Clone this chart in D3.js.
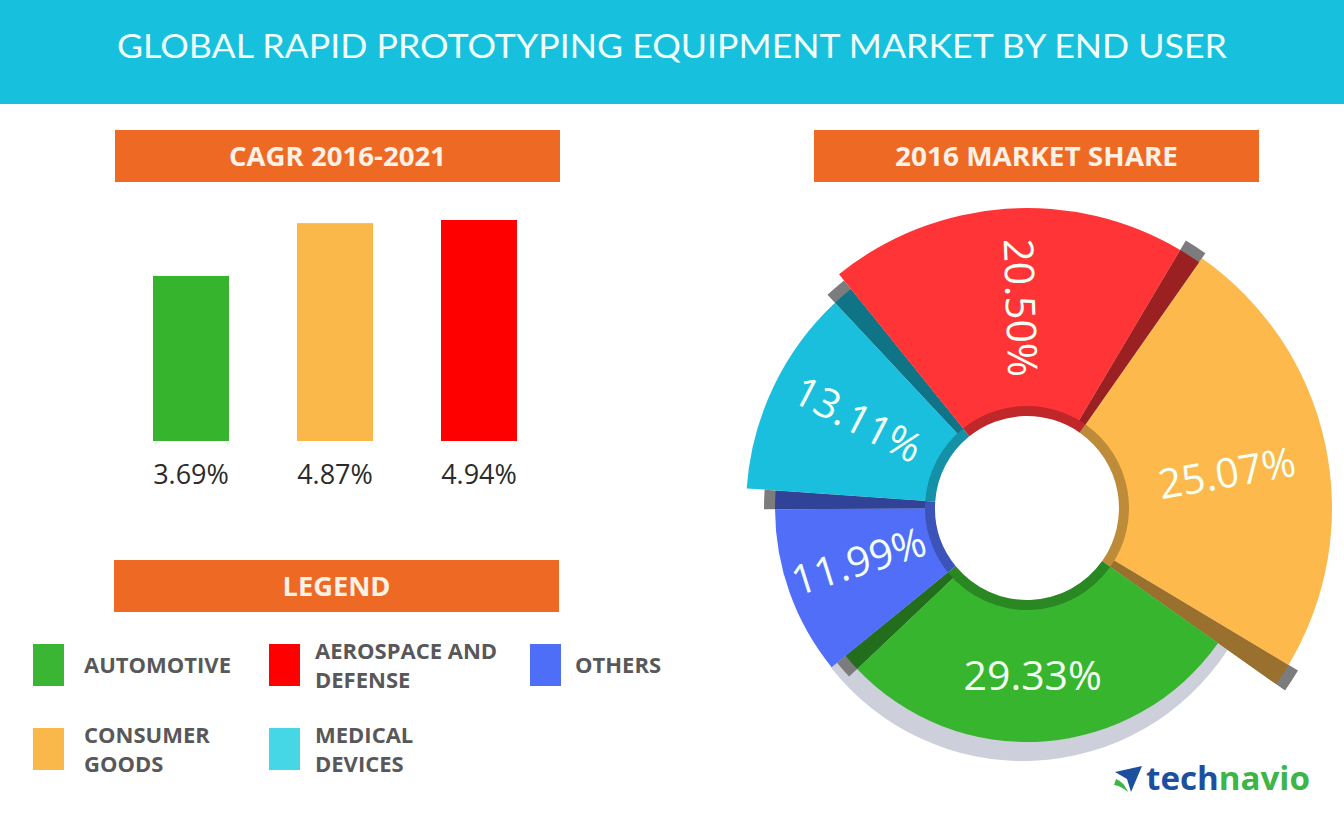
<!DOCTYPE html>
<html><head><meta charset="utf-8">
<script src="https://cdn.jsdelivr.net/npm/d3@7"></script>
<style>body{margin:0;background:#fff}svg{display:block}</style>
</head><body><svg id="c" width="1344" height="816"></svg>
<script>
// ---------- data ----------
const title = "GLOBAL RAPID PROTOTYPING EQUIPMENT MARKET BY END USER";
const barTitle = "CAGR 2016-2021";
const pieTitle = "2016 MARKET SHARE";
const legendTitle = "LEGEND";
const cagrSegments = ["Automotive", "Consumer goods", "Aerospace and defense"];
const cagrValues = [3.69, 4.87, 4.94];
const shareSegments = ["Consumer goods", "Automotive", "Others", "Medical devices", "Aerospace and defense"];
const shareValues = [25.07, 29.33, 11.99, 13.11, 20.50];
const legendRows = [["Automotive", "Aerospace and defense", "Others"], ["Consumer goods", "Medical devices"]];
const legendLabels = [["AUTOMOTIVE"], ["AEROSPACE AND", "DEFENSE"], ["OTHERS"], ["CONSUMER", "GOODS"], ["MEDICAL", "DEVICES"]];
const legendOrder = ["Automotive", "Aerospace and defense", "Others", "Consumer goods", "Medical devices"];

// ---------- styles ----------
const barColor = {"Automotive": "#37b42d", "Consumer goods": "#fbb84a", "Aerospace and defense": "#fe0000"};
const pieColor = {"Automotive": "#38b52e", "Consumer goods": "#fdb94c", "Aerospace and defense": "#fe3436", "Medical devices": "#1bbfde", "Others": "#506ef8"};
const legendColor = {"Automotive": "#3ab534", "Consumer goods": "#fbb84a", "Aerospace and defense": "#ff0000", "Medical devices": "#45d7e6", "Others": "#4f6ef7"};
const sliceOuter = {"Automotive": 234, "Consumer goods": 305, "Aerospace and defense": 300, "Medical devices": 281, "Others": 252};
const legendSwatchX = [33, 269, 530];
const legendTextX = [84, 315, 575];
const legendRowY = [644, 728];
const ORANGE = "#ee6a24", TEAL = "#17c1de";

const svg = d3.select("#c");

// title bar
svg.append("rect").attr("x", 0).attr("y", 0).attr("width", 1344).attr("height", 104).attr("fill", TEAL);
svg.append("text").attr("x", 672).attr("y", 58).attr("text-anchor", "middle")
  .attr("font-family", "Lato").attr("font-weight", 400).attr("font-size", 32)
  .attr("fill", "#effffb").attr("textLength", 1110).attr("lengthAdjust", "spacingAndGlyphs").text(title);

// headers
function header(x, y, w, h, t, tl) {
  svg.append("rect").attr("x", x).attr("y", y).attr("width", w).attr("height", h).attr("fill", ORANGE);
  svg.append("text").attr("x", x + w / 2).attr("y", y + h / 2 + 10).attr("text-anchor", "middle")
    .attr("font-family", "Open Sans").attr("font-weight", 700).attr("font-size", 27)
    .attr("fill", "#fdf1e6").attr("textLength", tl).attr("lengthAdjust", "spacingAndGlyphs").text(t);
}
header(115, 130, 445, 52, barTitle, 217);
header(814, 130, 445, 52, pieTitle, 283);
header(114, 560, 445, 52, legendTitle, 108);

// ---------- bar chart ----------
const xb = d3.scalePoint().domain(cagrSegments).range([191, 479]);
const yb = d3.scaleLinear().domain([0, 4.94]).range([441, 220]);
const barW = 76;
const bars = svg.append("g");
bars.selectAll("rect").data(cagrSegments).join("rect")
  .attr("x", d => xb(d) - barW / 2).attr("width", barW)
  .attr("y", (d, i) => yb(cagrValues[i])).attr("height", (d, i) => yb(0) - yb(cagrValues[i]))
  .attr("fill", d => barColor[d]);
bars.selectAll("text").data(cagrSegments).join("text")
  .attr("x", d => xb(d)).attr("y", 484).attr("text-anchor", "middle")
  .attr("font-family", "Open Sans").attr("font-size", 27).attr("fill", "#2b2b2b")
  .text((d, i) => d3.format(".2f")(cagrValues[i]) + "%");

// ---------- legend ----------
const lg = svg.append("g");
legendRows.forEach((row, r) => {
  row.forEach((name, c) => {
    const y = legendRowY[r];
    lg.append("rect").attr("x", legendSwatchX[c]).attr("y", y).attr("width", 31).attr("height", 42).attr("fill", legendColor[name]);
    const lines = legendLabels[legendOrder.indexOf(name)];
    const t = lg.append("text").attr("font-family", "Open Sans").attr("font-weight", 700)
      .attr("font-size", 22).attr("fill", "#58585a");
    const cy = y + 21;
    const lh = 29;
    lines.forEach((ln, k) => {
      t.append("tspan").attr("x", legendTextX[c]).attr("y", cy + 8 + (k - (lines.length - 1) / 2) * lh).text(ln);
    });
  });
});

// ---------- donut ----------
const cx = 1027, cy = 508;
const innerR = 101, holeR = 92;
const deg = Math.PI / 180;
const pieData = shareSegments.map((n, i) => ({name: n, value: shareValues[i]}));
const pie = d3.pie().sort(null).value(d => d.value).startAngle(35 * deg).endAngle(395 * deg);
const arcs = pie(pieData);
const g = svg.append("g").attr("transform", `translate(${cx},${cy})`);

// soft grey ring behind automotive slice
const auto = arcs.find(a => a.data.name === "Automotive");
g.append("path").attr("transform", "translate(-4,9)")
  .attr("d", d3.arc().innerRadius(innerR).outerRadius(sliceOuter["Automotive"] + 10)
    .startAngle(auto.startAngle - 0.04).endAngle(auto.endAngle + 0.02)())
  .attr("fill", "#cdd0da");

const delta = 0.075;
arcs.forEach(a => {
  const n = a.data.name, R = sliceOuter[n], col = pieColor[n];
  g.append("path").attr("d", d3.arc().innerRadius(innerR).outerRadius(R + 11)
    .startAngle(a.endAngle - delta).endAngle(a.endAngle)()).attr("fill", "#7c7c7e");
  g.append("path").attr("d", d3.arc().innerRadius(innerR).outerRadius(R)
    .startAngle(a.endAngle - delta).endAngle(a.endAngle)()).attr("fill", d3.color(col).darker(1.4));
  g.append("path").attr("d", d3.arc().innerRadius(innerR).outerRadius(R)
    .startAngle(a.startAngle).endAngle(a.endAngle - delta)()).attr("fill", col);
});
// darker inner rim
arcs.forEach(a => {
  g.append("path").attr("d", d3.arc().innerRadius(holeR).outerRadius(innerR + 1)
    .startAngle(a.startAngle).endAngle(a.endAngle)()).attr("fill", d3.color(pieColor[a.data.name]).darker(0.8));
});
// labels
arcs.forEach(a => {
  const R = sliceOuter[a.data.name];
  const c = d3.arc().innerRadius(innerR).outerRadius(R).centroid(a);
  let m = ((a.startAngle + a.endAngle) / 2) / deg % 360;
  let rot = (m >= 135 && m <= 225) ? 0 : (m > 225 || m < 20) ? m - 270 : m - 90;
  g.append("text").attr("transform", `translate(${c[0]},${c[1]}) rotate(${rot})`)
    .attr("text-anchor", "middle").attr("dy", "0.35em")
    .attr("font-family", "Open Sans").attr("font-size", 41).attr("fill", "#f3fff3")
    .text(d3.format(".2f")(a.data.value) + "%");
});

// ---------- logo ----------
const logo = svg.append("g");
logo.append("path").attr("d", "M1115,772 L1142,766 L1131,792 L1127,779 Z").attr("fill", "#1d4f9f");
logo.append("path").attr("d", "M1116,779 Q1124,782 1128,792 Q1121,786 1114,785 Z").attr("fill", "#3cb549");
const lt = logo.append("text").attr("x", 1146).attr("y", 790).attr("font-family", "Open Sans")
  .attr("font-weight", 700).attr("font-size", 33).attr("textLength", 164).attr("lengthAdjust", "spacingAndGlyphs");
lt.append("tspan").attr("fill", "#1d4f9f").text("tech");
lt.append("tspan").attr("fill", "#3cb549").text("navio");
</script></body></html>
